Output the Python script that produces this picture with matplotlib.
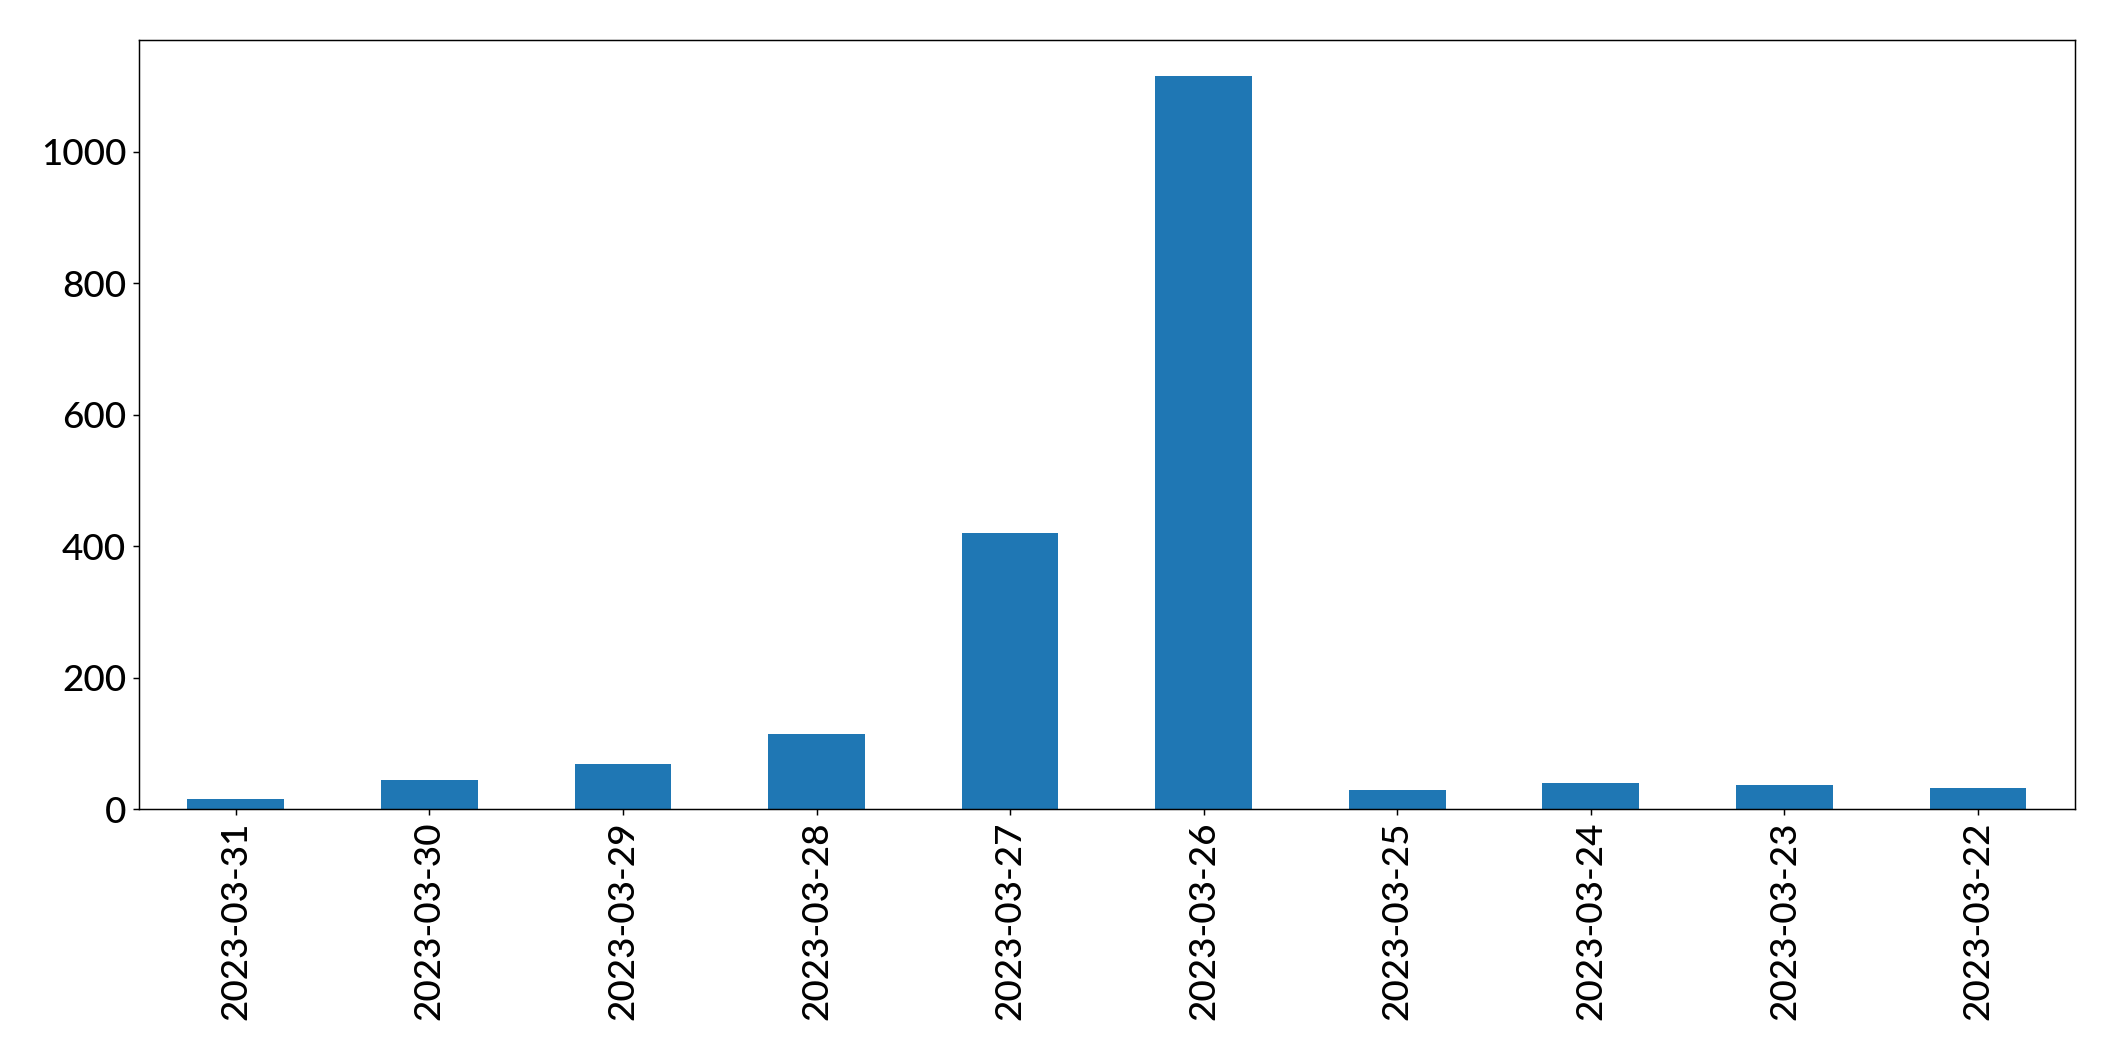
import numpy as np
import matplotlib
matplotlib.use("Agg")
from matplotlib import pyplot as plt

dates = ["2023-03-31", "2023-03-30", "2023-03-29", "2023-03-28", "2023-03-27",
         "2023-03-26", "2023-03-25", "2023-03-24", "2023-03-23", "2023-03-22"]
counts = [15, 44, 69, 114, 420, 1115, 29, 40, 37, 32]

plt.rcParams['font.family'] = ['Lato', 'DejaVu Sans']
plt.rcParams['font.weight'] = 'medium'
plt.rcParams['font.size'] = 20

dpi = 132.2
fig = plt.figure(figsize=(2115 / dpi, 1061 / dpi), dpi=dpi)
ax = fig.add_axes([0.0657, 0.2375, 0.9153, 0.7252])

x = np.arange(len(dates))
ax.bar(x, counts, width=0.5, color='#1f77b4')
ax.set_xticks(x)
ax.set_xticklabels(dates, rotation=90)
ax.set_xlim(-0.5, len(dates) - 0.5)

fig.savefig("out.png", dpi=dpi)
